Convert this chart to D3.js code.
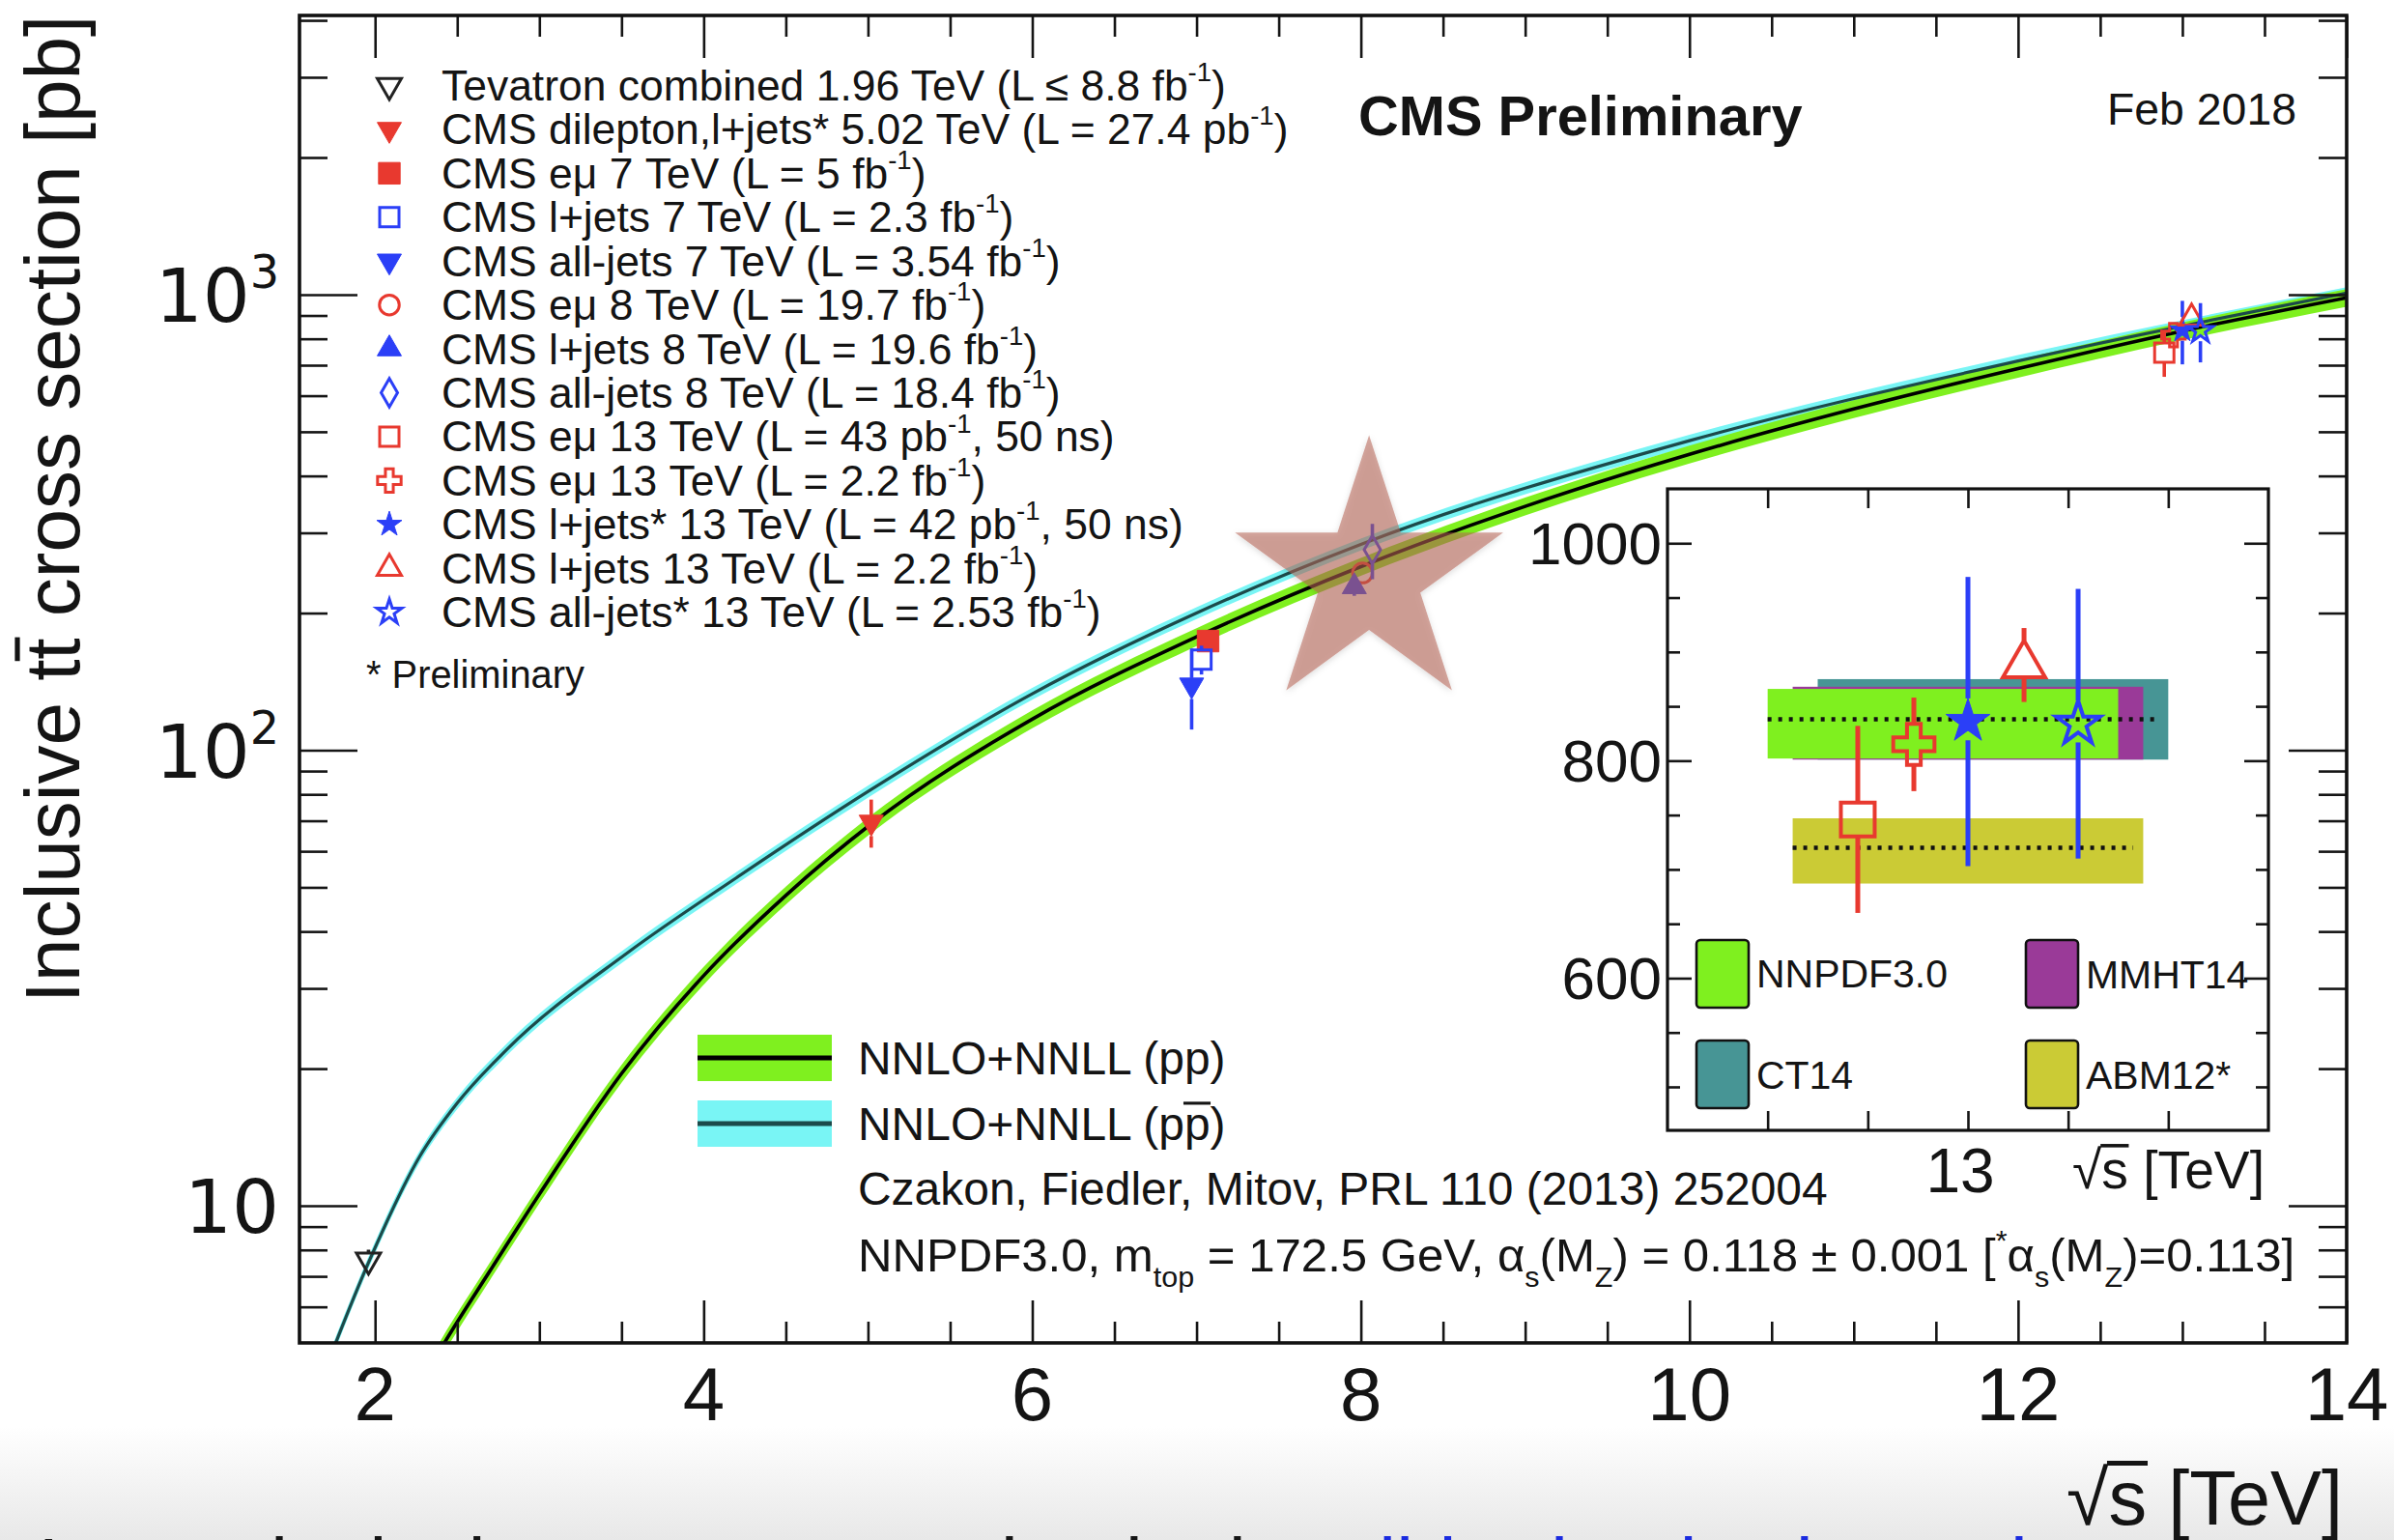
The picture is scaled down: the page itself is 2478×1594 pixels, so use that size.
<!DOCTYPE html>
<html>
<head>
<meta charset="utf-8">
<title>Inclusive ttbar cross section versus centre-of-mass energy</title>
<script src="https://cdn.jsdelivr.net/npm/d3@7/dist/d3.min.js"></script>
<style>
  html, body { margin: 0; padding: 0; background: #ffffff; }
  svg { display: block; }
  text { font-family: "Liberation Sans", Arial, Helvetica, sans-serif; fill: #141414; }
</style>
</head>
<body>
<svg id="chart" width="2478" height="1594" xmlns="http://www.w3.org/2000/svg"></svg>
<script>
// ---------------- theory: NNLO+NNLL prediction, sigma(ttbar) in pb ----------------
const ppSqrtS   = [2.3, 2.4, 2.7, 3.0, 3.5, 4.0, 4.5, 5.02, 6, 7, 8, 9, 10, 11, 12, 13, 14];
const ppXsec    = [4.2, 4.85, 7.2, 10.6, 19.5, 32, 48, 68.9, 117, 177.3, 252.9, 343, 446, 561, 688, 831.8, 984.5];
const ppXsecLo  = [4.01, 4.63, 6.88, 10.12, 18.62, 30.56, 45.84, 65.8, 111.7, 169.3, 241.5, 327.6, 425.9, 535.8, 657.0, 794.4, 940.2];
const ppXsecHi  = [4.39, 5.07, 7.52, 11.08, 20.38, 33.44, 50.16, 72.0, 122.3, 185.3, 264.3, 358.4, 466.1, 586.2, 719.0, 869.2, 1028.8];

const ppbarSqrtS  = [1.7, 1.96, 2.27, 2.5, 2.8, 3.54, 4.2, 5.02, 6, 7, 8, 10, 12, 14];
const ppbarXsec   = [4.4, 7.5, 12.8, 16.8, 22.0, 36.0, 52.5, 82, 133, 200, 283, 478, 715, 1008];
const ppbarXsecLo = [4.27, 7.28, 12.42, 16.3, 21.34, 34.92, 50.93, 79.54, 129.0, 194, 274.5, 463.7, 693.6, 977.8];
const ppbarXsecHi = [4.53, 7.73, 13.18, 17.3, 22.66, 37.08, 54.08, 84.46, 137.0, 206, 291.5, 492.3, 736.5, 1038.2];

// ---------------- measurements ----------------
const measLabels = [
  "Tevatron combined 1.96 TeV (L ≤ 8.8 fb^{-1})",
  "CMS dilepton,l+jets* 5.02 TeV (L = 27.4 pb^{-1})",
  "CMS eμ 7 TeV (L = 5 fb^{-1})",
  "CMS l+jets 7 TeV (L = 2.3 fb^{-1})",
  "CMS all-jets 7 TeV (L = 3.54 fb^{-1})",
  "CMS eμ 8 TeV (L = 19.7 fb^{-1})",
  "CMS l+jets 8 TeV (L = 19.6 fb^{-1})",
  "CMS all-jets 8 TeV (L = 18.4 fb^{-1})",
  "CMS eμ 13 TeV (L = 43 pb^{-1}, 50 ns)",
  "CMS eμ 13 TeV (L = 2.2 fb^{-1})",
  "CMS l+jets* 13 TeV (L = 42 pb^{-1}, 50 ns)",
  "CMS l+jets 13 TeV (L = 2.2 fb^{-1})",
  "CMS all-jets* 13 TeV (L = 2.53 fb^{-1})"
];
// points sharing one energy are shifted slightly apart along sqrt(s)
const measSqrtS = [1.96, 5.02, 7.07, 7.03, 6.97, 8.01, 7.96, 8.07, 12.89, 12.946, 13.0, 13.056, 13.11];
const measXsec  = [7.60, 69.5, 173.6, 158.1, 139, 244.9, 228.5, 275.6, 746, 815, 836, 888, 834];
const measErr   = [0.41, 8.4, 7.8, 11.5, 28, 9.8, 10.3, 38.3, 86, 43, 133, 34, 124];

// ---------------- 13 TeV predictions for different PDF sets (inset) ----------------
const pdfNames   = ["CT14", "MMHT14", "NNPDF3.0", "ABM12*"];
const pdfXsecLo  = [801, 801, 802, 687];
const pdfXsecHi  = [875, 868, 866, 747];
const pdfXsecMid = [838, 838, 838, 720];
const pdfSqrtSFrom = [12.85, 12.825, 12.8, 12.825];
const pdfSqrtSTo   = [13.2, 13.175, 13.15, 13.175];

// ---------------- tick labels ----------------
const xTickLabels = [2, 4, 6, 8, 10, 12, 14];
const yTickLabels = ["10", "10^{2}", "10^{3}"];
const yTickValues = [10, 100, 1000];
const insetYTickValues = [600, 800, 1000];
const insetXTickLabels = [13];

// ---------------- styles ----------------
const RED = "#e8392f", BLUE = "#2b3ff7", DARK = "#222222";
const GREEN = "#7ff01f", CYAN = "#79f5f5", PPBAR_LINE = "#1c4a4a";
const TEXT = "#141414";
const pdfColors = ["#479595", "#9a3a98", "#7ff01f", "#cbcb35"];
const measColor  = [DARK, RED, RED, BLUE, BLUE, RED, BLUE, BLUE, RED, RED, BLUE, RED, BLUE];
const measMarker = ["triDownOpen", "triDown", "square", "squareOpen", "triDown", "circleOpen",
                    "triUp", "diamondOpen", "squareOpen", "crossOpen", "star", "triUpOpen", "starOpen"];
const MARKERS = {
  triDownOpen: {sym: d3.symbolTriangle, size: 270, rot: 180, open: true},
  triDown:     {sym: d3.symbolTriangle, size: 270, rot: 180, open: false},
  triUp:       {sym: d3.symbolTriangle, size: 270, rot: 0,   open: false},
  triUpOpen:   {sym: d3.symbolTriangle, size: 270, rot: 0,   open: true},
  square:      {sym: d3.symbolSquare,   size: 500, rot: 0,   open: false},
  squareOpen:  {sym: d3.symbolSquare,   size: 400, rot: 0,   open: true},
  circleOpen:  {sym: d3.symbolCircle,   size: 330, rot: 0,   open: true},
  diamondOpen: {sym: d3.symbolDiamond,  size: 250, rot: 0,   open: true},
  crossOpen:   {sym: d3.symbolCross,    size: 330, rot: 0,   open: true},
  star:        {sym: d3.symbolStar,     size: 210, rot: 0,   open: false},
  starOpen:    {sym: d3.symbolStar,     size: 210, rot: 0,   open: true}
};

// ---------------- layout ----------------
const plot  = {l: 310, r: 2429, t: 16, b: 1390};
const inset = {l: 1726, r: 2348, t: 506, b: 1170};

const svg = d3.select("#chart");
const defs = svg.append("defs");

const x = d3.scaleLinear().domain([1.54, 14]).range([plot.l, plot.r]);
const y = d3.scaleLog().domain([5, 4100]).range([plot.b, plot.t]);
const xi = d3.scaleLinear().domain([12.7, 13.3]).range([inset.l, inset.r]);
const yi = d3.scaleLinear().domain([460, 1050]).range([inset.b, inset.t]);

// ---------- rich text: ^{sup}, _{sub}, #bar{overline} ----------
function rich(sel, str, fs) {
  const parts = str.split(/(\^\{[^}]*\}|_\{[^}]*\}|#bar\{[^}]*\})/g).filter(p => p !== "");
  let cur = 0, pos = 0;
  const bars = [];
  parts.forEach(p => {
    let kind = "n", t = p;
    if (p.startsWith("^{")) { kind = "sup"; t = p.slice(2, -1); }
    else if (p.startsWith("_{")) { kind = "sub"; t = p.slice(2, -1); }
    else if (p.startsWith("#bar{")) { kind = "bar"; t = p.slice(5, -1); }
    const off = kind === "sup" ? -0.45 * fs : kind === "sub" ? 0.33 * fs : 0;
    const ts = sel.append("tspan").text(t);
    if (off !== cur) ts.attr("dy", (off - cur).toFixed(2));
    cur = off;
    if (kind === "sup" || kind === "sub") ts.attr("font-size", (0.62 * fs).toFixed(2));
    if (kind === "bar") bars.push([pos, pos + t.length - 1]);
    pos += t.length;
  });
  return bars;
}

function makeText(parent, str, o) {
  const g = parent.append("g").attr("transform", `translate(${o.x},${o.y})` + (o.rotate ? ` rotate(${o.rotate})` : ""));
  const inner = g.append("g");
  const t = inner.append("text").attr("text-anchor", o.anchor || "start").style("white-space", "pre");
  if (o.family) t.style("font-family", o.family);
  if (o.weight) t.attr("font-weight", o.weight);
  const col = o.fill || TEXT;
  t.style("fill", col);
  let fs = o.size || 40;
  if (o.width && !o.squeeze) {
    t.attr("font-size", 100); rich(t, str, 100);
    fs = 100 * o.width / t.node().getBBox().width;
    t.selectAll("tspan").remove();
  }
  t.attr("font-size", fs.toFixed(2));
  const bars = rich(t, str, fs);
  // overline bars drawn as strokes above the marked characters
  bars.forEach(([a, b]) => {
    const n = t.node();
    const x0 = n.getStartPositionOfChar(a).x, x1 = n.getEndPositionOfChar(b).x;
    inner.append("line").attr("x1", x0 - 0.02 * fs).attr("x2", x1 + 0.01 * fs)
      .attr("y1", -0.8 * fs).attr("y2", -0.8 * fs)
      .attr("stroke", col).attr("stroke-width", (0.065 * fs).toFixed(2));
  });
  if (o.width && o.squeeze) {
    const w = t.node().getBBox().width;
    inner.attr("transform", `scale(${(o.width / w).toFixed(4)},1)`);
  }
  return {g, t, fs};
}

// ---------- marker with vertical error bar ----------
function drawPoint(parent, i, cx, cy, yTop, yBot, k, sw, ew) {
  const spec = MARKERS[measMarker[i]], col = measColor[i];
  const g = parent.append("g");
  const path = g.append("path")
    .attr("d", d3.symbol(spec.sym, spec.size * k * k)())
    .attr("transform", `translate(${cx},${cy}) rotate(${spec.rot})`)
    .attr("fill", spec.open ? "none" : col)
    .attr("stroke", col)
    .attr("stroke-width", spec.open ? sw : 1)
    .attr("stroke-linejoin", "miter");
  if (yTop === null) return;
  const bb = path.node().getBBox();
  const up = spec.rot ? (bb.y + bb.height) : -bb.y;
  const dn = spec.rot ? -bb.y : (bb.y + bb.height);
  const segs = [];
  if (yTop < cy - up) segs.push([yTop, cy - up]);
  if (yBot > cy + dn) segs.push([cy + dn, yBot]);
  segs.forEach(s => g.insert("line", "path")
    .attr("x1", cx).attr("x2", cx).attr("y1", s[0]).attr("y2", s[1])
    .attr("stroke", col).attr("stroke-width", ew));
}

// ---------- background ----------
svg.append("rect").attr("width", 2478).attr("height", 1594).attr("fill", "#ffffff");
const grad = defs.append("linearGradient").attr("id", "slideFoot").attr("x1", 0).attr("x2", 0).attr("y1", 0).attr("y2", 1);
grad.append("stop").attr("offset", "0%").attr("stop-color", "#ffffff");
grad.append("stop").attr("offset", "100%").attr("stop-color", "#e8e8e8");
svg.append("rect").attr("x", 0).attr("y", 1476).attr("width", 2478).attr("height", 118).attr("fill", "url(#slideFoot)");

defs.append("clipPath").attr("id", "clipMain").append("rect")
  .attr("x", plot.l).attr("y", plot.t).attr("width", plot.r - plot.l).attr("height", plot.b - plot.t);
defs.append("clipPath").attr("id", "clipInset").append("rect")
  .attr("x", inset.l).attr("y", inset.t).attr("width", inset.r - inset.l).attr("height", inset.b - inset.t);
const shadow = defs.append("filter").attr("id", "softShadow").attr("x", "-20%").attr("y", "-20%").attr("width", "140%").attr("height", "140%");
shadow.append("feDropShadow").attr("dx", 0).attr("dy", 2).attr("stdDeviation", 3).attr("flood-color", "#000").attr("flood-opacity", 0.25);

// ---------- theory curves ----------
const gCurves = svg.append("g").attr("clip-path", "url(#clipMain)");
const ppRows = ppSqrtS.map((s, i) => ({s, c: ppXsec[i], lo: ppXsecLo[i], hi: ppXsecHi[i]}));
const ppbarRows = ppbarSqrtS.map((s, i) => ({s, c: ppbarXsec[i], lo: ppbarXsecLo[i], hi: ppbarXsecHi[i]}));
const band = d3.area().x(d => x(d.s)).y0(d => y(d.lo)).y1(d => y(d.hi)).curve(d3.curveMonotoneX);
const centre = d3.line().x(d => x(d.s)).y(d => y(d.c)).curve(d3.curveMonotoneX);

gCurves.append("path").attr("d", band(ppbarRows)).attr("fill", CYAN);
gCurves.append("path").attr("d", band(ppRows)).attr("fill", GREEN);
gCurves.append("path").attr("d", centre(ppbarRows)).attr("fill", "none").attr("stroke", PPBAR_LINE).attr("stroke-width", 3.2);
gCurves.append("path").attr("d", centre(ppRows)).attr("fill", "none").attr("stroke", "#000").attr("stroke-width", 3.6);

// ---------- measurements in the main frame ----------
const gMeas = svg.append("g").attr("clip-path", "url(#clipMain)");
measSqrtS.forEach((s, i) => {
  drawPoint(gMeas, i, x(s), y(measXsec[i]), y(measXsec[i] + measErr[i]), y(measXsec[i] - measErr[i]), 1, 3, 3.6);
});

// ---------- highlight star over the 8 TeV results ----------
svg.append("path")
  .attr("d", d3.symbol(d3.symbolStar, 23900)())
  .attr("transform", `translate(${x(8.05)},${y(241)})`)
  .attr("fill", "rgb(180,97,82)").attr("fill-opacity", 0.55)
  .attr("filter", "url(#softShadow)");

// ---------- main axes (ROOT style, ticks inside on all four sides) ----------
const tickCol = "#151515";
function styleAxis(g) {
  g.select(".domain").remove();
  g.selectAll(".tick line").attr("stroke", tickCol).attr("stroke-width", 2.6);
  g.selectAll(".tick text").remove();
}
const xMinor = d3.range(2, 14.01, 0.5).filter(v => v % 2 !== 0);
const yMinor = [6, 7, 8, 9, 20, 30, 40, 50, 60, 70, 80, 90, 200, 300, 400, 500, 600, 700, 800, 900, 2000, 3000, 4000];

svg.append("g").attr("transform", `translate(0,${plot.b})`).call(d3.axisBottom(x).tickValues(xTickLabels).tickSize(-44)).call(styleAxis);
svg.append("g").attr("transform", `translate(0,${plot.b})`).call(d3.axisBottom(x).tickValues(xMinor).tickSize(-22)).call(styleAxis);
svg.append("g").attr("transform", `translate(0,${plot.t})`).call(d3.axisTop(x).tickValues(xTickLabels).tickSize(-44)).call(styleAxis);
svg.append("g").attr("transform", `translate(0,${plot.t})`).call(d3.axisTop(x).tickValues(xMinor).tickSize(-22)).call(styleAxis);
svg.append("g").attr("transform", `translate(${plot.l},0)`).call(d3.axisLeft(y).tickValues(yTickValues).tickSize(-60)).call(styleAxis);
svg.append("g").attr("transform", `translate(${plot.l},0)`).call(d3.axisLeft(y).tickValues(yMinor).tickSize(-29)).call(styleAxis);
svg.append("g").attr("transform", `translate(${plot.r},0)`).call(d3.axisRight(y).tickValues(yTickValues).tickSize(-60)).call(styleAxis);
svg.append("g").attr("transform", `translate(${plot.r},0)`).call(d3.axisRight(y).tickValues(yMinor).tickSize(-29)).call(styleAxis);

svg.append("rect").attr("x", plot.l).attr("y", plot.t).attr("width", plot.r - plot.l).attr("height", plot.b - plot.t)
  .attr("fill", "none").attr("stroke", "#111").attr("stroke-width", 3.6);

// tick labels
xTickLabels.forEach(v => makeText(svg, String(v), {x: x(v), y: 1470, size: 78, anchor: "middle"}));
yTickValues.forEach((v, i) => makeText(svg, yTickLabels[i], {x: 289, y: y(v) + 28, size: 77, anchor: "end", family: "'DejaVu Sans', sans-serif"}));

// axis titles
makeText(svg, "Inclusive t#bar{t} cross section [pb]", {x: 82, y: 527, width: 1023, anchor: "middle", rotate: -90});
makeText(svg, "√#bar{s} [TeV]", {x: 2425, y: 1578, width: 286, anchor: "end"});

// header texts
makeText(svg, "CMS Preliminary", {x: 1406, y: 140, size: 57, width: 460, squeeze: true, weight: "bold"});
makeText(svg, "Feb 2018", {x: 2181, y: 129, width: 196});

// ---------- measurement legend ----------
const legRow0 = 88.5, legStep = 45.43, legMarkX = 403, legTextX = 457;
const legFirst = makeText(svg, measLabels[0], {x: legTextX, y: legRow0 + 15, width: 812});
const legFs = legFirst.fs;
measLabels.forEach((lab, i) => {
  const cy = legRow0 + i * legStep;
  if (i > 0) makeText(svg, lab, {x: legTextX, y: cy + 0.35 * legFs, size: legFs});
  drawPoint(svg, i, legMarkX, cy, null, null, 1, 3, 3);
});
makeText(svg, "* Preliminary", {x: 379, y: 712, width: 226});

// ---------- theory legend and notes ----------
const swL = 722, swW = 139, swH = 48;
[[1095, GREEN, "#000"], [1163, CYAN, PPBAR_LINE]].forEach(([cy, fill, line]) => {
  svg.append("rect").attr("x", swL).attr("y", cy - swH / 2).attr("width", swW).attr("height", swH).attr("fill", fill);
  svg.append("line").attr("x1", swL).attr("x2", swL + swW).attr("y1", cy).attr("y2", cy).attr("stroke", line).attr("stroke-width", 5);
});
const cite = makeText(svg, "Czakon, Fiedler, Mitov, PRL 110 (2013) 252004", {x: 888, y: 1247, width: 1004});
const noteFs = cite.fs;
makeText(svg, "NNLO+NNLL (pp)", {x: 888, y: 1095 + 0.36 * noteFs, size: noteFs});
makeText(svg, "NNLO+NNLL (p#bar{p})", {x: 888, y: 1163 + 0.36 * noteFs, size: noteFs});
makeText(svg, "NNPDF3.0, m_{top} = 172.5 GeV, α_{s}(M_{Z}) = 0.118 ± 0.001 [^{*}α_{s}(M_{Z})=0.113]",
  {x: 888, y: 1316, size: noteFs, width: 1487, squeeze: true});

// ---------- inset: 13 TeV zoom ----------
const gIn = svg.append("g");
gIn.append("rect").attr("x", inset.l).attr("y", inset.t).attr("width", inset.r - inset.l).attr("height", inset.b - inset.t).attr("fill", "#fff");
const gInData = gIn.append("g").attr("clip-path", "url(#clipInset)");
pdfNames.forEach((n, i) => {
  gInData.append("rect")
    .attr("x", xi(pdfSqrtSFrom[i])).attr("width", xi(pdfSqrtSTo[i]) - xi(pdfSqrtSFrom[i]))
    .attr("y", yi(pdfXsecHi[i])).attr("height", yi(pdfXsecLo[i]) - yi(pdfXsecHi[i]))
    .attr("fill", pdfColors[i]);
});
[[2, 12.8, 13.19], [3, 12.825, 13.165]].forEach(([i, a, b]) => {
  gInData.append("line").attr("x1", xi(a)).attr("x2", xi(b)).attr("y1", yi(pdfXsecMid[i])).attr("y2", yi(pdfXsecMid[i]))
    .attr("stroke", "#111").attr("stroke-width", 4.5).attr("stroke-dasharray", "4 7");
});
for (let i = 8; i < measSqrtS.length; i++) {
  drawPoint(gInData, i, xi(measSqrtS[i]), yi(measXsec[i]), yi(measXsec[i] + measErr[i]), yi(measXsec[i] - measErr[i]), 1.75, 4, 5);
}
// inset ticks
const inXTicks = [12.8, 12.9, 13.0, 13.1, 13.2];
const inYMinor = d3.range(500, 1050, 50).filter(v => !insetYTickValues.includes(v));
gIn.append("g").attr("transform", `translate(0,${inset.b})`).call(d3.axisBottom(xi).tickValues(inXTicks).tickSize(-20)).call(styleAxis);
gIn.append("g").attr("transform", `translate(0,${inset.t})`).call(d3.axisTop(xi).tickValues(inXTicks).tickSize(-20)).call(styleAxis);
gIn.append("g").attr("transform", `translate(${inset.l},0)`).call(d3.axisLeft(yi).tickValues(insetYTickValues).tickSize(-25)).call(styleAxis);
gIn.append("g").attr("transform", `translate(${inset.l},0)`).call(d3.axisLeft(yi).tickValues(inYMinor).tickSize(-13)).call(styleAxis);
gIn.append("g").attr("transform", `translate(${inset.r},0)`).call(d3.axisRight(yi).tickValues(insetYTickValues).tickSize(-25)).call(styleAxis);
gIn.append("g").attr("transform", `translate(${inset.r},0)`).call(d3.axisRight(yi).tickValues(inYMinor).tickSize(-13)).call(styleAxis);
gIn.append("rect").attr("x", inset.l).attr("y", inset.t).attr("width", inset.r - inset.l).attr("height", inset.b - inset.t)
  .attr("fill", "none").attr("stroke", "#111").attr("stroke-width", 3.2);
insetYTickValues.forEach(v => makeText(gIn, String(v), {x: 1720, y: yi(v) + 22, size: 62, anchor: "end"}));
insetXTickLabels.forEach(v => makeText(gIn, String(v), {x: xi(v) - 8, y: 1234, size: 64, anchor: "middle"}));
makeText(gIn, "√#bar{s} [TeV]", {x: 2145, y: 1230, width: 199});

// inset legend
const boxes = [[2, 1756, 1008], [1, 2097, 1008], [0, 1756, 1112], [3, 2097, 1112]];
let inLegFs = null;
boxes.forEach(([i, bx, cy]) => {
  gIn.append("rect").attr("x", bx).attr("y", cy - 35).attr("width", 54).attr("height", 70).attr("rx", 4)
    .attr("fill", pdfColors[i]).attr("stroke", "#111").attr("stroke-width", 2.6);
  if (inLegFs === null) inLegFs = makeText(gIn, pdfNames[i], {x: bx + 62, y: cy + 14, width: 198}).fs;
  else makeText(gIn, pdfNames[i], {x: bx + 62, y: cy + 0.36 * inLegFs, size: inLegFs});
});

// ---------- slide title running off the bottom edge ----------
const foot = svg.append("text").attr("x", 40).attr("y", 1648).attr("font-size", 80).style("white-space", "pre");
foot.append("tspan").text("Latest inclusive tt cross section in the ");
foot.append("tspan").style("fill", "#1a2be0").text("all-hadronic channel");
</script>
</body>
</html>
